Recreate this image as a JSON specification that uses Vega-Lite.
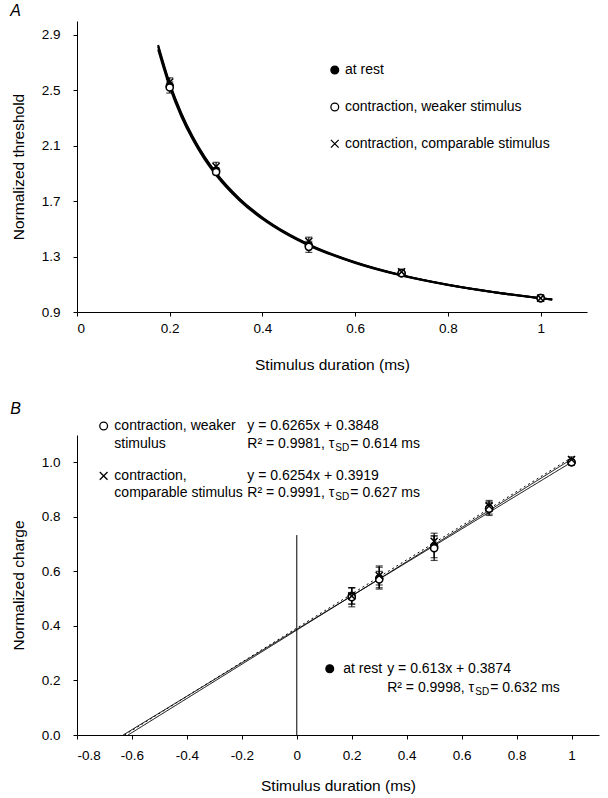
{
  "$schema": "https://vega.github.io/schema/vega-lite/v6.json",
  "background": "white",
  "padding": {"left": 10, "top": 3, "right": 5, "bottom": 3},
  "config": {
    "font": "Liberation Sans",
    "view": {"stroke": null},
    "axis": {
      "grid": false, "domainColor": "black", "tickColor": "black", "labelColor": "black", "titleColor": "black",
      "labelFont": "Liberation Sans", "titleFont": "Liberation Sans", "labelFontSize": 13.5, "titleFontSize": 15.5,
      "titleFontWeight": "normal", "tickSize": 4, "domainWidth": 1, "tickWidth": 1
    },
    "title": {"fontSize": 16, "fontStyle": "italic", "fontWeight": "normal", "anchor": "start", "frame": "bounds", "color": "black", "offset": 2, "dx": -1}
  },
  "datasets": {
    "curvesA": [
      {"s": "r", "x": 0.175, "y": 2.827}, {"s": "r", "x": 0.2, "y": 2.55}, {"s": "r", "x": 0.225, "y": 2.335}, {"s": "r", "x": 0.25, "y": 2.163}, {"s": "r", "x": 0.275, "y": 2.022}, {"s": "r", "x": 0.3, "y": 1.904}, {"s": "r", "x": 0.35, "y": 1.72}, {"s": "r", "x": 0.4, "y": 1.582}, {"s": "r", "x": 0.45, "y": 1.474}, {"s": "r", "x": 0.5, "y": 1.388}, {"s": "r", "x": 0.6, "y": 1.259}, {"s": "r", "x": 0.7, "y": 1.166}, {"s": "r", "x": 0.8, "y": 1.097}, {"s": "r", "x": 0.9, "y": 1.043}, {"s": "r", "x": 1.0, "y": 1.0}, {"s": "r", "x": 1.025, "y": 0.991},
      {"s": "w", "x": 0.175, "y": 2.794}, {"s": "w", "x": 0.2, "y": 2.522}, {"s": "w", "x": 0.225, "y": 2.311}, {"s": "w", "x": 0.25, "y": 2.142}, {"s": "w", "x": 0.275, "y": 2.003}, {"s": "w", "x": 0.3, "y": 1.888}, {"s": "w", "x": 0.35, "y": 1.707}, {"s": "w", "x": 0.4, "y": 1.571}, {"s": "w", "x": 0.45, "y": 1.465}, {"s": "w", "x": 0.5, "y": 1.38}, {"s": "w", "x": 0.6, "y": 1.254}, {"s": "w", "x": 0.7, "y": 1.163}, {"s": "w", "x": 0.8, "y": 1.095}, {"s": "w", "x": 0.9, "y": 1.042}, {"s": "w", "x": 1.0, "y": 1.0}, {"s": "w", "x": 1.025, "y": 0.991},
      {"s": "c", "x": 0.175, "y": 2.816}, {"s": "c", "x": 0.2, "y": 2.541}, {"s": "c", "x": 0.225, "y": 2.327}, {"s": "c", "x": 0.25, "y": 2.156}, {"s": "c", "x": 0.275, "y": 2.016}, {"s": "c", "x": 0.3, "y": 1.899}, {"s": "c", "x": 0.35, "y": 1.715}, {"s": "c", "x": 0.4, "y": 1.578}, {"s": "c", "x": 0.45, "y": 1.471}, {"s": "c", "x": 0.5, "y": 1.385}, {"s": "c", "x": 0.6, "y": 1.257}, {"s": "c", "x": 0.7, "y": 1.165}, {"s": "c", "x": 0.8, "y": 1.096}, {"s": "c", "x": 0.9, "y": 1.043}, {"s": "c", "x": 1.0, "y": 1.0}, {"s": "c", "x": 1.025, "y": 0.991}
    ],
    "ptsA": [
      {"s": "r", "x": 0.2, "y": 2.53, "lo": 2.51, "hi": 2.55}, {"s": "r", "x": 0.3, "y": 1.92, "lo": 1.9, "hi": 1.94}, {"s": "r", "x": 0.5, "y": 1.38, "lo": 1.36, "hi": 1.4}, {"s": "r", "x": 0.7, "y": 1.18, "lo": 1.17, "hi": 1.19}, {"s": "r", "x": 1.0, "y": 1.0, "lo": 0.99, "hi": 1.01},
      {"s": "w", "x": 0.2, "y": 2.52, "lo": 2.48, "hi": 2.56}, {"s": "w", "x": 0.3, "y": 1.91, "lo": 1.89, "hi": 1.93}, {"s": "w", "x": 0.5, "y": 1.37, "lo": 1.33, "hi": 1.41}, {"s": "w", "x": 0.7, "y": 1.18, "lo": 1.16, "hi": 1.2}, {"s": "w", "x": 1.0, "y": 1.0, "lo": 0.99, "hi": 1.01},
      {"s": "c", "x": 0.2, "y": 2.56, "lo": 2.53, "hi": 2.59}, {"s": "c", "x": 0.3, "y": 1.95, "lo": 1.92, "hi": 1.98}, {"s": "c", "x": 0.5, "y": 1.41, "lo": 1.38, "hi": 1.44}, {"s": "c", "x": 0.7, "y": 1.19, "lo": 1.17, "hi": 1.21}, {"s": "c", "x": 1.0, "y": 1.0, "lo": 0.99, "hi": 1.01}
    ],
    "legendA": [
      {"s": "r", "x": 0.556, "tx": 0.578, "y": 2.646, "label": "at rest"},
      {"s": "w", "x": 0.556, "tx": 0.578, "y": 2.379, "label": "contraction, weaker stimulus"},
      {"s": "c", "x": 0.556, "tx": 0.578, "y": 2.114, "label": "contraction, comparable stimulus"}
    ],
    "linesB": [
      {"s": "r", "x": -0.632, "y": 0}, {"s": "r", "x": 1.0, "y": 1.0004},
      {"s": "w", "x": -0.614, "y": 0}, {"s": "w", "x": 1.0, "y": 1.0113},
      {"s": "c", "x": -0.627, "y": 0}, {"s": "c", "x": 1.0, "y": 1.0173}
    ],
    "ptsB": [
      {"s": "r", "x": 0.2, "y": 0.51, "lo": 0.48, "hi": 0.54}, {"s": "r", "x": 0.3, "y": 0.575, "lo": 0.535, "hi": 0.615}, {"s": "r", "x": 0.5, "y": 0.69, "lo": 0.65, "hi": 0.73}, {"s": "r", "x": 0.7, "y": 0.83, "lo": 0.81, "hi": 0.85}, {"s": "r", "x": 1.0, "y": 1.0, "lo": 0.99, "hi": 1.01},
      {"s": "w", "x": 0.2, "y": 0.505, "lo": 0.47, "hi": 0.54}, {"s": "w", "x": 0.3, "y": 0.57, "lo": 0.54, "hi": 0.6}, {"s": "w", "x": 0.5, "y": 0.685, "lo": 0.64, "hi": 0.73}, {"s": "w", "x": 0.7, "y": 0.83, "lo": 0.805, "hi": 0.855}, {"s": "w", "x": 1.0, "y": 1.0, "lo": 0.99, "hi": 1.01},
      {"s": "c", "x": 0.2, "y": 0.51, "lo": 0.48, "hi": 0.54}, {"s": "c", "x": 0.3, "y": 0.585, "lo": 0.55, "hi": 0.62}, {"s": "c", "x": 0.5, "y": 0.71, "lo": 0.68, "hi": 0.74}, {"s": "c", "x": 0.7, "y": 0.84, "lo": 0.82, "hi": 0.86}, {"s": "c", "x": 1.0, "y": 1.01, "lo": 1.0, "hi": 1.02}
    ],
    "legendB": [
      {"s": "w", "x": -0.703, "y": 1.133},
      {"s": "c", "x": -0.703, "y": 0.95},
      {"s": "r", "x": 0.12, "y": 0.243}
    ],
    "textB": [
      {"kind": "t", "x": -0.664, "y": 1.133, "text": "contraction, weaker"},
      {"kind": "t", "x": -0.664, "y": 1.068, "text": "stimulus"},
      {"kind": "t", "x": -0.664, "y": 0.95, "text": "contraction,"},
      {"kind": "t", "x": -0.664, "y": 0.889, "text": "comparable stimulus"},
      {"kind": "t", "x": -0.18, "y": 1.133, "text": "y = 0.6265x + 0.3848"},
      {"kind": "t", "x": -0.18, "y": 1.068, "text": "R² = 0.9981, τ"},
      {"kind": "sub", "x": 0.1404, "y": 1.068, "text": "SD"},
      {"kind": "t", "x": 0.195, "y": 1.068, "text": "= 0.614 ms"},
      {"kind": "t", "x": -0.18, "y": 0.95, "text": "y = 0.6254x + 0.3919"},
      {"kind": "t", "x": -0.18, "y": 0.889, "text": "R² = 0.9991, τ"},
      {"kind": "sub", "x": 0.1404, "y": 0.889, "text": "SD"},
      {"kind": "t", "x": 0.195, "y": 0.889, "text": "= 0.627 ms"},
      {"kind": "t", "x": 0.169, "y": 0.243, "text": "at rest"},
      {"kind": "t", "x": 0.329, "y": 0.243, "text": "y = 0.613x + 0.3874"},
      {"kind": "t", "x": 0.329, "y": 0.171, "text": "R² = 0.9998, τ"},
      {"kind": "sub", "x": 0.6495, "y": 0.171, "text": "SD"},
      {"kind": "t", "x": 0.704, "y": 0.171, "text": "= 0.632 ms"}
    ],
    "zeroB": [{"x": 0, "y": 0, "y2": 0.733}]
  },
  "bounds": "flush",
  "spacing": 123,
  "vconcat": [
    {
      "title": {"text": "A"},
      "width": 510,
      "height": 291,
      "layer": [
        {
          "data": {"name": "curvesA"},
          "mark": {"type": "line", "color": "black", "strokeWidth": 2, "interpolate": "monotone"},
          "encoding": {
            "x": {"field": "x", "type": "quantitative", "scale": {"domain": [0, 1.1], "nice": false, "zero": false},
                  "axis": {"title": "Stimulus duration (ms)", "values": [0, 0.2, 0.4, 0.6, 0.8, 1], "format": "~g", "labelPadding": 5, "titlePadding": 23}},
            "y": {"field": "y", "type": "quantitative", "scale": {"domain": [0.9, 3.0], "nice": false, "zero": false},
                  "axis": {"title": "Normalized threshold", "values": [0.9, 1.3, 1.7, 2.1, 2.5, 2.9], "format": ".1f", "labelPadding": 13, "titlePadding": 15}},
            "detail": {"field": "s"}
          }
        },
        {
          "data": {"name": "ptsA"},
          "mark": {"type": "rule", "color": "black", "strokeWidth": 1.2},
          "encoding": {
            "x": {"field": "x", "type": "quantitative"},
            "y": {"field": "lo", "type": "quantitative"},
            "y2": {"field": "hi"}
          }
        },
        {
          "data": {"name": "ptsA"},
          "mark": {"type": "tick", "orient": "horizontal", "color": "black", "size": 7, "thickness": 1.2},
          "encoding": {
            "x": {"field": "x", "type": "quantitative"},
            "y": {"field": "lo", "type": "quantitative"}
          }
        },
        {
          "data": {"name": "ptsA"},
          "mark": {"type": "tick", "orient": "horizontal", "color": "black", "size": 7, "thickness": 1.2},
          "encoding": {
            "x": {"field": "x", "type": "quantitative"},
            "y": {"field": "hi", "type": "quantitative"}
          }
        },
        {
          "data": {"name": "ptsA"},
          "mark": {"type": "point", "filled": true, "stroke": "black", "strokeWidth": 1.5, "size": 50, "opacity": 1},
          "encoding": {
            "x": {"field": "x", "type": "quantitative"},
            "y": {"field": "y", "type": "quantitative"},
            "shape": {"field": "s", "type": "nominal", "legend": null, "scale": {"domain": ["r", "w", "c"], "range": ["circle", "circle", "M-1,-1L1,1M1,-1L-1,1"]}},
            "fill": {"field": "s", "type": "nominal", "legend": null, "scale": {"domain": ["r", "w", "c"], "range": ["black", "white", "transparent"]}}
          }
        },
        {
          "data": {"name": "legendA"},
          "mark": {"type": "point", "filled": true, "stroke": "black", "strokeWidth": 1.3, "size": 60, "opacity": 1},
          "encoding": {
            "x": {"field": "x", "type": "quantitative"},
            "y": {"field": "y", "type": "quantitative"},
            "shape": {"field": "s", "type": "nominal", "legend": null, "scale": {"domain": ["r", "w", "c"], "range": ["circle", "circle", "M-1,-1L1,1M1,-1L-1,1"]}},
            "fill": {"field": "s", "type": "nominal", "legend": null, "scale": {"domain": ["r", "w", "c"], "range": ["black", "white", "transparent"]}}
          }
        },
        {
          "data": {"name": "legendA"},
          "mark": {"type": "text", "align": "left", "baseline": "middle", "fontSize": 14, "color": "black", "font": "Liberation Sans"},
          "encoding": {
            "x": {"field": "tx", "type": "quantitative"},
            "y": {"field": "y", "type": "quantitative"},
            "text": {"field": "label"}
          }
        }
      ]
    },
    {
      "title": {"text": "B"},
      "width": 522,
      "height": 300,
      "layer": [
        {
          "data": {"name": "linesB"},
          "mark": {"type": "line", "color": "black", "strokeWidth": 1},
          "encoding": {
            "x": {"field": "x", "type": "quantitative", "scale": {"domain": [-0.8, 1.1], "nice": false, "zero": false},
                  "axis": {"title": "Stimulus duration (ms)", "values": [-0.8, -0.6, -0.4, -0.2, 0, 0.2, 0.4, 0.6, 0.8, 1], "format": "~g", "labelExpr": "replace(datum.label, '\u2212', '-')", "labelPadding": 9, "titlePadding": 17}},
            "y": {"field": "y", "type": "quantitative", "scale": {"domain": [0, 1.1], "nice": false, "zero": false},
                  "axis": {"title": "Normalized charge", "values": [0, 0.2, 0.4, 0.6, 0.8, 1.0], "format": ".1f", "labelPadding": 13, "titlePadding": 15}},
            "detail": {"field": "s"},
            "strokeDash": {"field": "s", "type": "nominal", "legend": null, "scale": {"domain": ["r", "w", "c"], "range": [[1, 0], [1, 0], [2, 3]]}}
          }
        },
        {
          "data": {"name": "zeroB"},
          "mark": {"type": "rule", "color": "black", "strokeWidth": 1},
          "encoding": {
            "x": {"field": "x", "type": "quantitative"},
            "y": {"field": "y", "type": "quantitative"},
            "y2": {"field": "y2"}
          }
        },
        {
          "data": {"name": "ptsB"},
          "mark": {"type": "rule", "color": "black", "strokeWidth": 1.2},
          "encoding": {
            "x": {"field": "x", "type": "quantitative"},
            "y": {"field": "lo", "type": "quantitative"},
            "y2": {"field": "hi"}
          }
        },
        {
          "data": {"name": "ptsB"},
          "mark": {"type": "tick", "orient": "horizontal", "color": "black", "size": 7, "thickness": 1.2},
          "encoding": {
            "x": {"field": "x", "type": "quantitative"},
            "y": {"field": "lo", "type": "quantitative"}
          }
        },
        {
          "data": {"name": "ptsB"},
          "mark": {"type": "tick", "orient": "horizontal", "color": "black", "size": 7, "thickness": 1.2},
          "encoding": {
            "x": {"field": "x", "type": "quantitative"},
            "y": {"field": "hi", "type": "quantitative"}
          }
        },
        {
          "data": {"name": "ptsB"},
          "mark": {"type": "point", "filled": true, "stroke": "black", "strokeWidth": 1.5, "size": 50, "opacity": 1},
          "encoding": {
            "x": {"field": "x", "type": "quantitative"},
            "y": {"field": "y", "type": "quantitative"},
            "shape": {"field": "s", "type": "nominal", "legend": null, "scale": {"domain": ["r", "w", "c"], "range": ["circle", "circle", "M-1,-1L1,1M1,-1L-1,1"]}},
            "fill": {"field": "s", "type": "nominal", "legend": null, "scale": {"domain": ["r", "w", "c"], "range": ["black", "white", "transparent"]}}
          }
        },
        {
          "data": {"name": "legendB"},
          "mark": {"type": "point", "filled": true, "stroke": "black", "strokeWidth": 1.3, "size": 60, "opacity": 1},
          "encoding": {
            "x": {"field": "x", "type": "quantitative"},
            "y": {"field": "y", "type": "quantitative"},
            "shape": {"field": "s", "type": "nominal", "legend": null, "scale": {"domain": ["r", "w", "c"], "range": ["circle", "circle", "M-1,-1L1,1M1,-1L-1,1"]}},
            "fill": {"field": "s", "type": "nominal", "legend": null, "scale": {"domain": ["r", "w", "c"], "range": ["black", "white", "transparent"]}}
          }
        },
        {
          "data": {"name": "textB"},
          "transform": [{"filter": "datum.kind == 't'"}],
          "mark": {"type": "text", "align": "left", "baseline": "middle", "fontSize": 14, "color": "black", "font": "Liberation Sans"},
          "encoding": {
            "x": {"field": "x", "type": "quantitative"},
            "y": {"field": "y", "type": "quantitative"},
            "text": {"field": "text"}
          }
        },
        {
          "data": {"name": "textB"},
          "transform": [{"filter": "datum.kind == 'sub'"}],
          "mark": {"type": "text", "align": "left", "baseline": "middle", "fontSize": 10, "dy": 4, "color": "black", "font": "Liberation Sans"},
          "encoding": {
            "x": {"field": "x", "type": "quantitative"},
            "y": {"field": "y", "type": "quantitative"},
            "text": {"field": "text"}
          }
        }
      ]
    }
  ]
}
